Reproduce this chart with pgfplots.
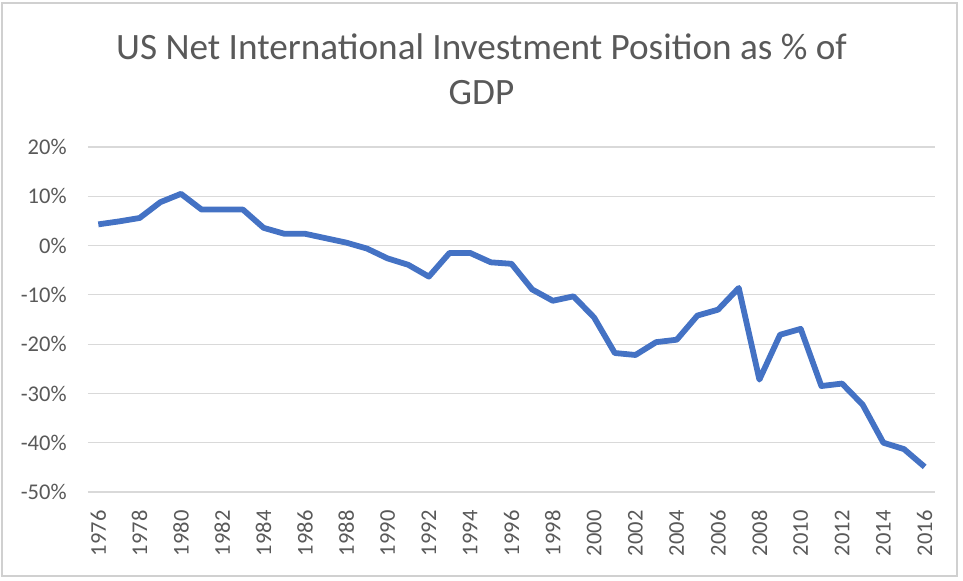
\documentclass[border=0pt]{standalone}
\usepackage{fontspec}
\setmainfont{Carlito}
\usepackage{pgfplots}
\pgfplotsset{compat=1.18}
\definecolor{txtgray}{HTML}{595959}
\definecolor{gridgray}{HTML}{D9D9D9}
\definecolor{xlblue}{HTML}{4472C4}
\definecolor{framegray}{HTML}{D0D0D0}

\begin{document}
\begin{tikzpicture}
\begin{axis}[
  scale only axis,
  width=423.5pt, height=172.5pt,
  xmin=1975.5, xmax=2016.5,
  ymin=-50, ymax=20,
  xtick={1976,1978,...,2016},
  ytick={-50,-40,...,20},
  yticklabels={-50\%,-40\%,-30\%,-20\%,-10\%,0\%,10\%,20\%},
  scaled x ticks=false,
  /pgf/number format/assume math mode=true,
  /pgf/number format/1000 sep={},
  axis line style={draw=none},
  major tick length=0pt,
  ymajorgrids=true,
  grid style={gridgray, line width=0.6pt},
  tick label style={font=\fontsize{11.25}{13}\selectfont, text=txtgray, inner sep=0pt},
  yticklabel style={anchor=east, xshift=-10.5pt},
  xticklabel style={rotate=90, anchor=east, xshift=-9pt},
  title={US Net International Investment Position as \% of\\GDP},
  title style={at={(axis description cs:0.4646,1)}, anchor=north, yshift=51pt,
    align=center, inner sep=0pt, text=txtgray, font=\fontsize{18.6}{22.5}\selectfont},
  clip=false,
]
\addplot[xlblue, line width=2.9pt, line join=round] coordinates {
(1976,4.3) (1977,4.9) (1978,5.6) (1979,8.8) (1980,10.5)
(1981,7.3) (1982,7.3) (1983,7.3) (1984,3.6) (1985,2.4)
(1986,2.4) (1987,1.5) (1988,0.6) (1989,-0.6) (1990,-2.6)
(1991,-3.9) (1992,-6.3) (1993,-1.5) (1994,-1.5) (1995,-3.4)
(1996,-3.7) (1997,-8.9) (1998,-11.2) (1999,-10.3) (2000,-14.6)
(2001,-21.8) (2002,-22.2) (2003,-19.6) (2004,-19.1) (2005,-14.2)
(2006,-13.0) (2007,-8.6) (2008,-27.2) (2009,-18.1) (2010,-16.9)
(2011,-28.5) (2012,-28.0) (2013,-32.3) (2014,-40.0) (2015,-41.3)
(2016,-44.9)
};
\end{axis}
\draw[framegray, line width=0.6pt] (-43pt,-42pt) rectangle (434.5pt,244.5pt);
\path[use as bounding box] (-44pt,-44.5pt) rectangle (437.5pt,246pt);
\end{tikzpicture}
\end{document}
